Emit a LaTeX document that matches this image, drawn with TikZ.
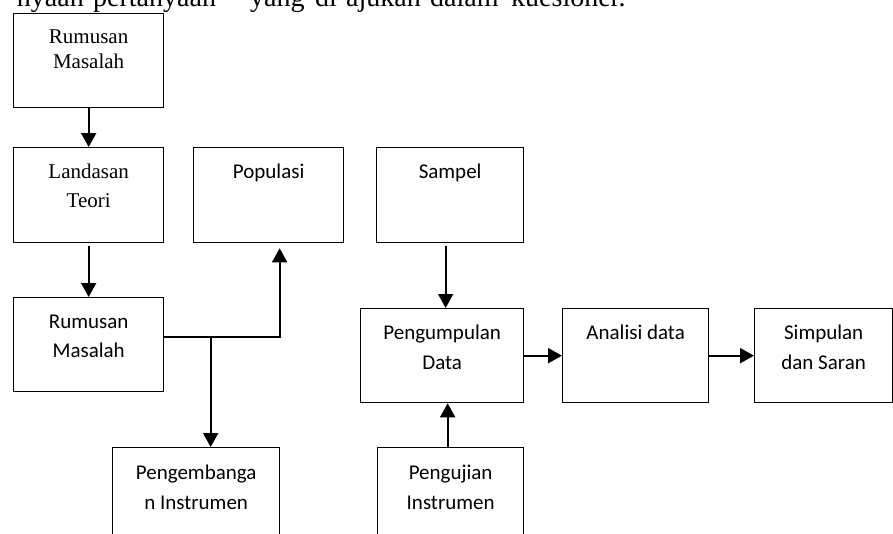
\documentclass[tikz,border=0pt]{standalone}
\usepackage{fontspec}
\newfontfamily\tmsfont{Liberation Serif}
\newfontfamily\calfont{Carlito}
\usetikzlibrary{arrows.meta}
\tikzset{
  box/.style={draw, line width=1.3pt, inner sep=0pt, anchor=north west, rectangle},
  lblT/.style={anchor=north, inner sep=0pt, align=center, font=\tmsfont\fontsize{21}{25}\selectfont},
  lblTb/.style={anchor=north, inner sep=0pt, align=center, font=\tmsfont\fontsize{21}{29}\selectfont},
  lblC/.style={anchor=north, inner sep=0pt, align=center, font=\calfont\fontsize{21}{29.5}\selectfont},
  arr/.style={line width=2pt, -{Triangle[length=14pt,width=15pt]}},
  topw/.style={anchor=base west, inner sep=0pt, font=\tmsfont\fontsize{28}{32}\selectfont}
}
\begin{document}
\begin{tikzpicture}[x=1pt,y=-1pt]
\useasboundingbox (0,0) rectangle (893,533);
\clip (0,0) rectangle (893,533);
% cut-off text line at the top
\node[topw, anchor=base east] (w1) at (84,6.5) {nyaan};
\node[topw] (w2) at (93,6.5) {pertanyaan};
\node[topw] (w3) at (250,6.5) {yang};
\node[topw] (w4) at (315,6.5) {di};
\node[topw] (w5) at (346,6.5) {ajukan};
\node[topw] (w6) at (430,6.5) {dalam};
\node[topw] (w7) at (511,6.5) {kuesioner.};
% boxes
\node[box, minimum width=150pt, minimum height=94pt] (rm1) at (13,13) {};
\node[box, minimum width=150pt, minimum height=95pt] (lt) at (13,147) {};
\node[box, minimum width=150pt, minimum height=95pt] (pop) at (193,147) {};
\node[box, minimum width=147pt, minimum height=95pt] (sam) at (376,147) {};
\node[box, minimum width=150pt, minimum height=94pt] (rm2) at (13,297) {};
\node[box, minimum width=167pt, minimum height=120pt] (peng) at (112,447) {};
\node[box, minimum width=163pt, minimum height=94pt] (pd) at (360,308) {};
\node[box, minimum width=146pt, minimum height=94pt] (ad) at (562,308) {};
\node[box, minimum width=138pt, minimum height=94pt] (ss) at (754,308) {};
\node[box, minimum width=146pt, minimum height=120pt] (uji) at (377,447) {};
% labels
\node[lblT] (trm1) at ([yshift=-12.5pt]rm1.north) {\strut Rumusan\\Masalah};
\node[lblTb] (tlt) at ([yshift=-10.7pt]lt.north) {\strut Landasan\\Teori};
\node[lblC] (tpop) at ([yshift=-11pt]pop.north) {\strut Populasi};
\node[lblC] (tsam) at ([yshift=-11pt]sam.north) {\strut Sampel};
\node[lblC] (trm2) at ([yshift=-10.5pt]rm2.north) {\strut Rumusan\\Masalah};
\node[lblC] (tpeng) at ([yshift=-12pt]peng.north) {\strut Pengembanga\\n Instrumen};
\node[lblC] (tpd) at ([yshift=-11pt]pd.north) {\strut Pengumpulan\\Data};
\node[lblC] (tad) at ([yshift=-11pt]ad.north) {\strut Analisi data};
\node[lblC] (tss) at ([yshift=-11pt]ss.north) {\strut Simpulan\\dan Saran};
\node[lblC] (tuji) at ([yshift=-12pt]uji.north) {\strut Pengujian\\Instrumen};
% connectors
\draw[arr] (rm1.south) -- (lt.north);
\draw[arr, shorten <=3pt] (lt.south) -- (rm2.north);
\draw[arr, shorten <=3pt] ([xshift=-4.5pt]sam.south) -- ([xshift=-4.5pt]sam.south |- pd.north);
\draw[arr] ([xshift=-3pt]uji.north) -- ([xshift=-3pt]uji.north |- pd.south);
\draw[arr] (pd.east) -- (ad.west);
\draw[arr] (ad.east) -- (ss.west);
\path ([yshift=8pt]rm2.east) coordinate (ja);
\path ([xshift=11pt]pop.south) coordinate (jp);
\path ([xshift=14.5pt]peng.north) coordinate (jb);
\draw[arr, shorten >=5pt, line join=miter] (ja) -| (jp);
\draw[arr] (ja -| jb) -- (jb);
\end{tikzpicture}
\end{document}
